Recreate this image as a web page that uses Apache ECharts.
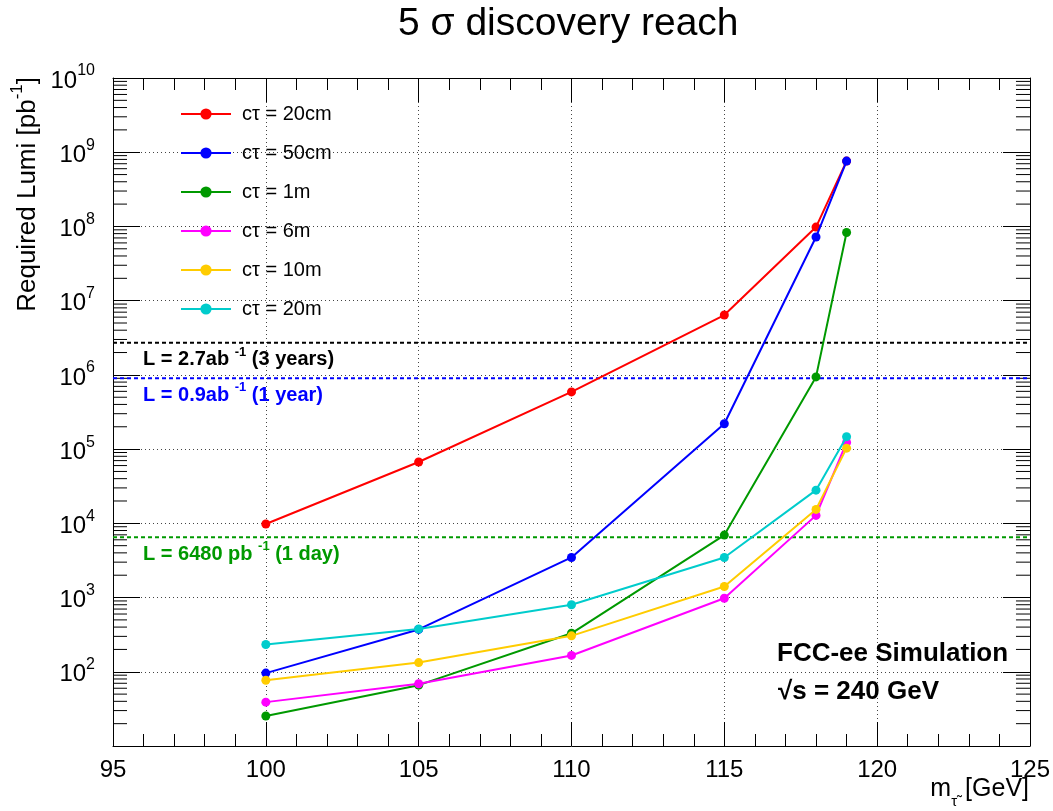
<!DOCTYPE html>
<html>
<head>
<meta charset="utf-8">
<script src="https://cdn.jsdelivr.net/npm/echarts@6/dist/echarts.min.js"></script>
<style>
html,body{margin:0;padding:0;background:#fff;}
#chart{width:1053px;height:811px;}
</style>
</head>
<body>
<div id="chart"></div>
<script>
// ---- data ----
const masses = [100, 105, 110, 115, 118, 119];
const seriesNames = ['cτ = 20cm', 'cτ = 50cm', 'cτ = 1m', 'cτ = 6m', 'cτ = 10m', 'cτ = 20m'];
const ct20cm = [9800, 67000, 590000, 6.4e6, 9.8e7, 7.6e8];
const ct50cm = [96, 372, 3470, 2.2e5, 7.2e7, 7.6e8];
const ct1m   = [25.4, 66, 330, 6950, 9.4e5, 8.3e7];
const ct6m   = [39, 69, 166, 980, 1.28e4, 1.23e5];
const ct10m  = [77, 133, 305, 1410, 1.54e4, 1.03e5];
const ct20m  = [233, 377, 800, 3470, 2.8e4, 1.47e5];
const seriesValues = [ct20cm, ct50cm, ct1m, ct6m, ct10m, ct20m];
const seriesColors = ['#ff0000', '#0000ff', '#009900', '#ff00ff', '#ffcc00', '#00cccc'];

const refLumis = [2.7e6, 9e5, 6480];
const refColors = ['#000000', '#0000ff', '#009900'];
const refLabels = [
  ['L = 2.7ab ', '-1', '\u00a0(3 years)'],
  ['L = 0.9ab ', '-1', '\u00a0(1 year)'],
  ['L = 6480 pb ', '-1', '\u00a0(1 day)']
];

const xMin = 95, xMax = 125, xStep = 5;
const yMin = 10, yMax = 1e10;

// ---- build ----
const FONT = 'Liberation Sans, Arial, Helvetica, sans-serif';
const chart = echarts.init(document.getElementById('chart'), null, {renderer: 'canvas'});

// minor log tick positions (2..9 x 10^k)
const minorTickVals = [];
for (let e = 1; e < 10; e++) {
  for (let m = 2; m <= 9; m++) minorTickVals.push([xMin, m * Math.pow(10, e)]);
}

const series = seriesValues.map((vals, i) => ({
  name: seriesNames[i],
  type: 'line',
  data: masses.map((m, j) => [m, vals[j]]),
  symbol: 'circle',
  symbolSize: 9,
  showSymbol: true,
  lineStyle: {width: 2, color: seriesColors[i]},
  itemStyle: {color: seriesColors[i]},
  z: 5 + i,
  animation: false
}));

refLumis.forEach((L, i) => {
  series.push({
    name: 'ref' + i,
    type: 'line',
    data: [[xMin, L], [xMax, L]],
    symbol: 'none',
    lineStyle: {width: 2, color: refColors[i], type: [4, 3]},
    z: 3,
    silent: true,
    animation: false
  });
});

series.push({
  name: 'minorTicks',
  type: 'custom',
  data: minorTickVals,
  clip: false,
  silent: true,
  z: 2,
  renderItem: function (params, api) {
    const p = api.coord([api.value(0), api.value(1)]);
    const cs = params.coordSys;
    const len = 14;
    return {
      type: 'group',
      children: [
        {type: 'line', shape: {x1: cs.x, y1: p[1], x2: cs.x + len, y2: p[1]}, style: {stroke: '#000', lineWidth: 1}},
        {type: 'line', shape: {x1: cs.x + cs.width - len, y1: p[1], x2: cs.x + cs.width, y2: p[1]}, style: {stroke: '#000', lineWidth: 1}}
      ]
    };
  },
  animation: false
});

const axisLabelRich = {
  b: {fontFamily: FONT, fontSize: 24, color: '#000', verticalAlign: 'bottom', lineHeight: 30},
  e: {fontFamily: FONT, fontSize: 16, color: '#000', verticalAlign: 'top', lineHeight: 30}
};

const option = {
  backgroundColor: '#ffffff',
  animation: false,
  textStyle: {fontFamily: FONT},
  title: {
    text: '5 σ discovery reach',
    left: 393,
    top: 0,
    textStyle: {fontFamily: FONT, fontSize: 39, fontWeight: 'normal', color: '#000'}
  },
  legend: {
    data: seriesNames,
    orient: 'vertical',
    left: 180,
    top: 104,
    padding: 0,
    itemWidth: 50,
    itemHeight: 14,
    itemGap: 19,
    textStyle: {fontFamily: FONT, fontSize: 20, lineHeight: 20, color: '#000', padding: [0, 0, 0, 6]},
    selectedMode: false
  },
  grid: {left: 113, right: 22, top: 78, bottom: 65, containLabel: false},
  xAxis: [
    {
      type: 'value', min: xMin, max: xMax, interval: xStep, position: 'bottom',
      axisLine: {show: true, lineStyle: {color: '#000', width: 1}},
      axisTick: {show: true, inside: true, length: 24, lineStyle: {color: '#000'}},
      minorTick: {show: true, splitNumber: 5, length: 12, lineStyle: {color: '#000'}},
      axisLabel: {fontFamily: FONT, fontSize: 24, color: '#000', margin: 12},
      splitLine: {show: true, lineStyle: {color: '#444', type: [1, 3], width: 1}}
    },
    {
      type: 'value', min: xMin, max: xMax, interval: xStep, position: 'top',
      axisLine: {show: true, lineStyle: {color: '#000', width: 1}},
      axisTick: {show: true, inside: true, length: 24, lineStyle: {color: '#000'}},
      minorTick: {show: true, splitNumber: 5, length: 12, lineStyle: {color: '#000'}},
      axisLabel: {show: false},
      splitLine: {show: false}
    }
  ],
  yAxis: [
    {
      type: 'log', logBase: 10, min: yMin, max: yMax, splitNumber: 9, position: 'left',
      axisLine: {show: true, lineStyle: {color: '#000', width: 1}},
      axisTick: {show: true, inside: true, length: 27, lineStyle: {color: '#000'}},
      axisLabel: {
        margin: 18,
        formatter: function (v) {
          const e = Math.round(Math.log10(v));
          if (e === 1) return '';
          return '{b|10}{e|' + e + '}';
        },
        rich: axisLabelRich
      },
      splitLine: {show: true, lineStyle: {color: '#444', type: [1, 3], width: 1}}
    },
    {
      type: 'log', logBase: 10, min: yMin, max: yMax, splitNumber: 9, position: 'right',
      axisLine: {show: true, lineStyle: {color: '#000', width: 1}},
      axisTick: {show: true, inside: true, length: 27, lineStyle: {color: '#000'}},
      axisLabel: {show: false},
      splitLine: {show: false}
    }
  ],
  series: series
};

chart.setOption(option);

// annotation texts, placed through the axis scales
function placeGraphics() {
  const g = [];
  refLumis.forEach((L, i) => {
    const p = chart.convertToPixel({xAxisIndex: 0, yAxisIndex: 0}, [xMin, L]);
    g.push({
      type: 'text', left: 143, top: p[1] + 3,
      style: {
        text: '{t|' + refLabels[i][0] + '}{s|' + refLabels[i][1] + '}{t|' + refLabels[i][2] + '}',
        rich: {
          t: {fontFamily: FONT, fontSize: 20, fontWeight: 'bold', fill: refColors[i], verticalAlign: 'bottom', lineHeight: 24},
          s: {fontFamily: FONT, fontSize: 13, fontWeight: 'bold', fill: refColors[i], verticalAlign: 'top', lineHeight: 24}
        }
      }
    });
  });
  // y axis title
  g.push({
    type: 'text', x: 25, y: 77, rotation: Math.PI / 2,
    style: {
      text: '{t|Required Lumi [pb}{s|-1}{t|]}',
      align: 'right', verticalAlign: 'middle',
      rich: {
        t: {fontFamily: FONT, fontSize: 26, fill: '#000', verticalAlign: 'bottom', lineHeight: 32},
        s: {fontFamily: FONT, fontSize: 17, fill: '#000', verticalAlign: 'top', lineHeight: 32}
      }
    }
  });
  // x axis title
  g.push({
    type: 'text', x: 1029, y: 793,
    style: {
      text: '{t|m}{s|τ̃}{g|\u00a0}{t|[GeV]}',
      align: 'right', verticalAlign: 'middle',
      rich: {
        t: {fontFamily: FONT, fontSize: 25, fill: '#000', verticalAlign: 'top', lineHeight: 32},
        g: {fontFamily: FONT, fontSize: 25, fill: '#000', verticalAlign: 'top', lineHeight: 32, width: 8},
        s: {fontFamily: FONT, fontSize: 15, fill: '#000', verticalAlign: 'bottom', lineHeight: 32}
      }
    }
  });
  g.push({
    type: 'text', left: 777, top: 641,
    style: {text: 'FCC-ee Simulation', fontFamily: FONT, fontSize: 26, fontWeight: 'bold', fill: '#000'}
  });
  g.push({
    type: 'text', left: 778, top: 679,
    style: {text: '√s = 240 GeV', fontFamily: FONT, fontSize: 26, fontWeight: 'bold', fill: '#000'}
  });
  chart.setOption({graphic: g});
}
placeGraphics();
</script>
</body>
</html>
